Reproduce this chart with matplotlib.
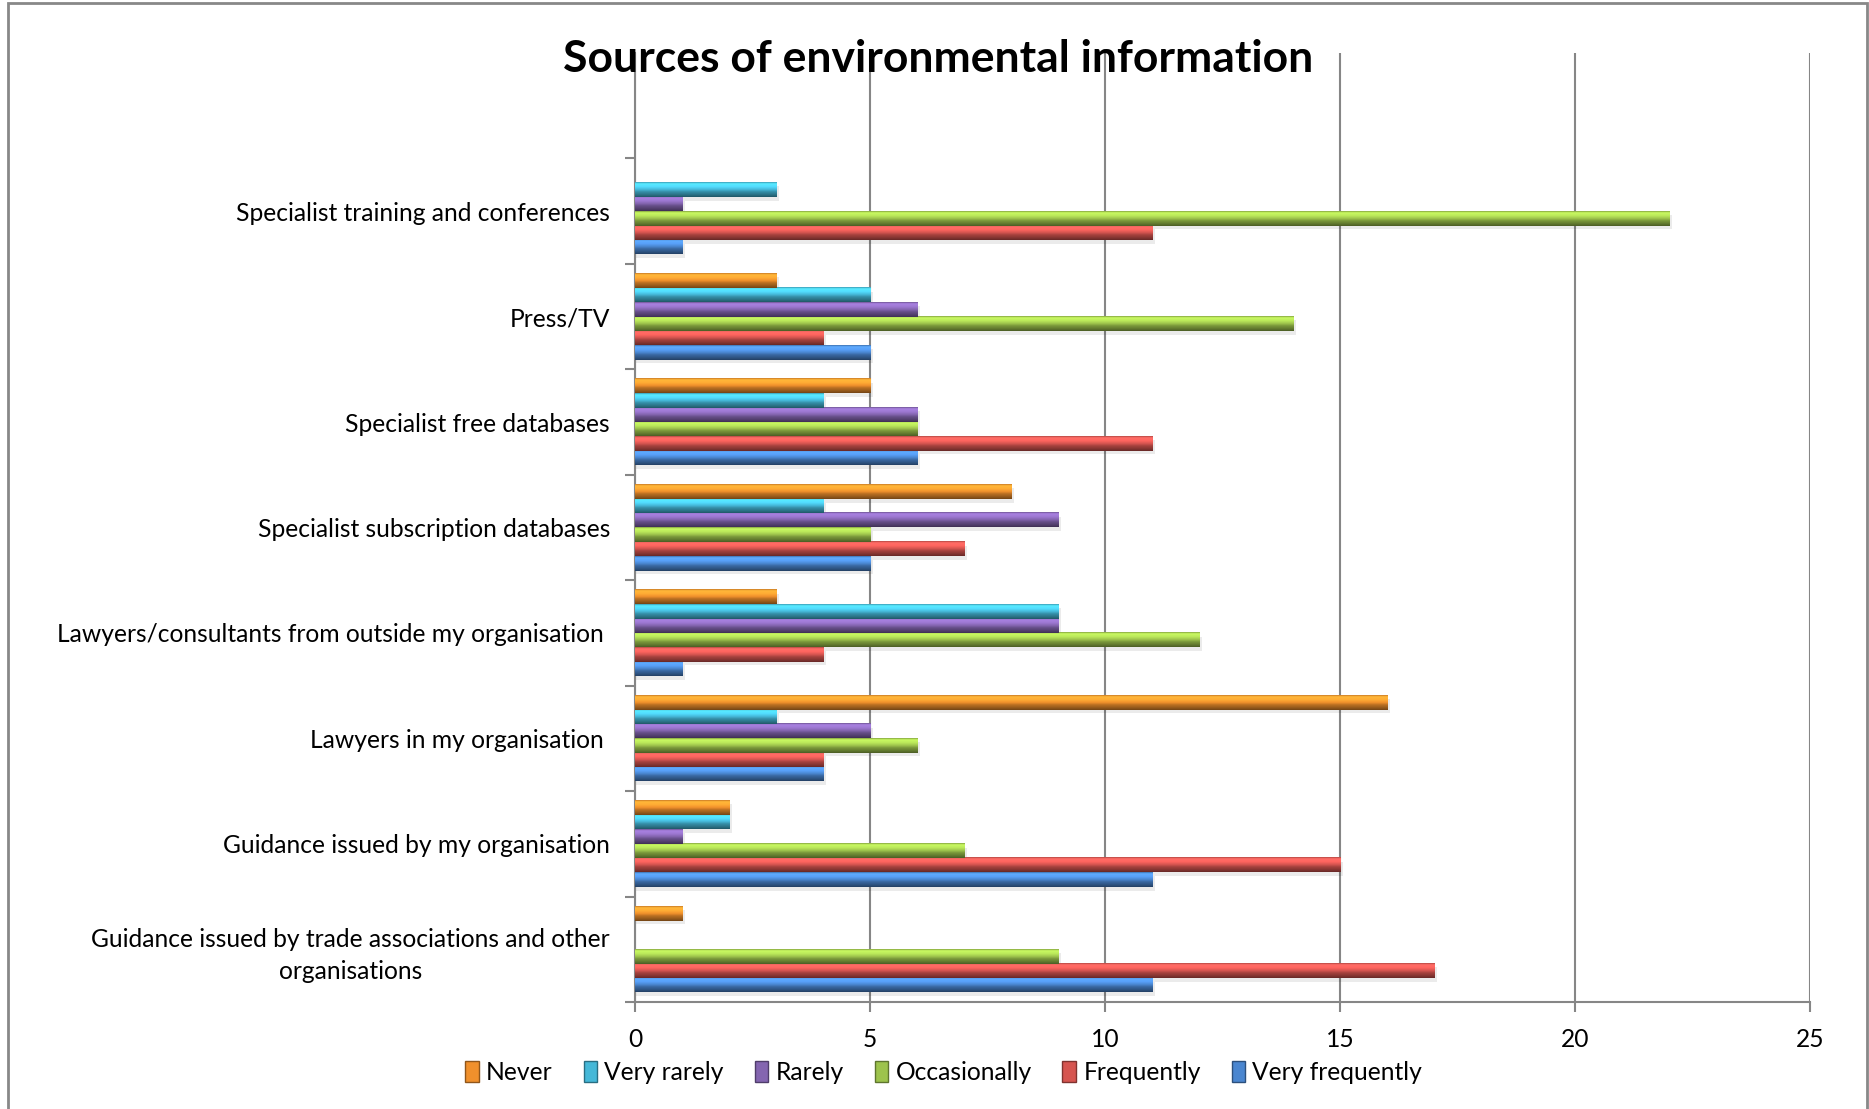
import numpy as np
import matplotlib.pyplot as plt
from matplotlib.colors import to_rgb
from matplotlib.patches import Patch, Rectangle

plt.rcParams['font.family'] = ['Lato', 'DejaVu Sans']

# categories from bottom to top
categories = [
    "Guidance issued by trade associations and other\norganisations",
    "Guidance issued by my organisation",
    "Lawyers in my organisation ",
    "Lawyers/consultants from outside my organisation ",
    "Specialist subscription databases",
    "Specialist free databases",
    "Press/TV",
    "Specialist training and conferences",
]

never = [1, 2, 16, 3, 8, 5, 3, 0]
very_rarely = [0, 2, 3, 9, 4, 4, 5, 3]
rarely = [0, 1, 5, 9, 9, 6, 6, 1]
occasionally = [9, 7, 6, 12, 5, 6, 14, 22]
frequently = [17, 15, 4, 4, 7, 11, 4, 11]
very_frequently = [11, 11, 4, 1, 5, 6, 5, 1]

# drawn bottom to top inside each group
series = [
    ("Very frequently", very_frequently, "#4A86D0"),
    ("Frequently", frequently, "#D65550"),
    ("Occasionally", occasionally, "#9DC34C"),
    ("Rarely", rarely, "#8465B0"),
    ("Very rarely", very_rarely, "#45B8D8"),
    ("Never", never, "#F0902C"),
]


def shade(c, k):
    return np.clip(np.array(to_rgb(c)) * k, 0, 1)


def bevel(c):
    # vertical shading of a bar, top row first
    stops = [(0.0, 0.85), (0.1, 1.28), (0.3, 1.2), (0.5, 1.0),
             (0.65, 0.78), (0.88, 0.6), (1.0, 0.48)]
    n = 40
    t = np.linspace(0, 1, n)
    pos = [s[0] for s in stops]
    cols = np.array([shade(c, k) for _, k in stops])
    rgb = np.stack([np.interp(t, pos, cols[:, j]) for j in range(3)], axis=1)
    return rgb.reshape(n, 1, 3)


fig = plt.figure(figsize=(18.69, 11.09), dpi=100)
ax = fig.add_axes([0.3397, 0.0965, 0.6287, 0.8557])

h = 0.136
y = np.arange(len(categories))
for i, (name, vals, col) in enumerate(series):
    img = bevel(col)
    for yc, v in zip(y, vals):
        if v <= 0:
            continue
        y0 = yc - 3 * h + i * h
        # soft shadow under the bar
        ax.add_patch(Rectangle((0, y0 - 0.035), v + 0.07, h, facecolor="black",
                               alpha=0.08, linewidth=0, zorder=2))
        ax.imshow(img, extent=[0, v, y0, y0 + h], aspect="auto",
                  origin="upper", interpolation="bilinear", zorder=3)

ax.set_xlim(0, 25)
ax.set_ylim(-0.5, len(categories) + 0.5)
ax.set_xticks(range(0, 26, 5))
ax.set_yticks(y)
ax.set_yticklabels(categories, fontsize=17.7, multialignment="center",
                   linespacing=1.45)
ax.set_yticks(np.arange(-0.5, len(categories), 1), minor=True)
ax.tick_params(axis="y", which="major", length=0, pad=18)
ax.tick_params(axis="y", which="minor", length=7, color="#868686", width=1.5)
ax.tick_params(axis="x", length=7, color="#868686", width=1.5, labelsize=17.7, pad=12)
ax.grid(axis="x", color="#868686", linewidth=1.5, zorder=0)
ax.set_axisbelow(True)
for s in ("top", "right"):
    ax.spines[s].set_visible(False)
for s in ("left", "bottom"):
    ax.spines[s].set_color("#868686")
    ax.spines[s].set_linewidth(1.5)

fig.text(0.502, 0.947, "Sources of environmental information", ha="center",
         va="center", fontsize=32, fontweight="bold")

handles = [Patch(facecolor=col, edgecolor=shade(col, 0.6), label=name)
           for name, vals, col in series[::-1]]
fig.legend(handles=handles, loc="center", bbox_to_anchor=(0.505, 0.033), ncol=6,
           frameon=False, fontsize=17.7, handlelength=0.55, handleheight=0.9,
           handletextpad=0.3, columnspacing=1.25)

# outer chart frame
fig.patches.append(Rectangle((8 / 1869, -0.01), 1859 / 1869, 1.01 - 3 / 1109,
                             transform=fig.transFigure, fill=False,
                             edgecolor="#888888", linewidth=2))

fig.savefig("out.png", dpi=100)
